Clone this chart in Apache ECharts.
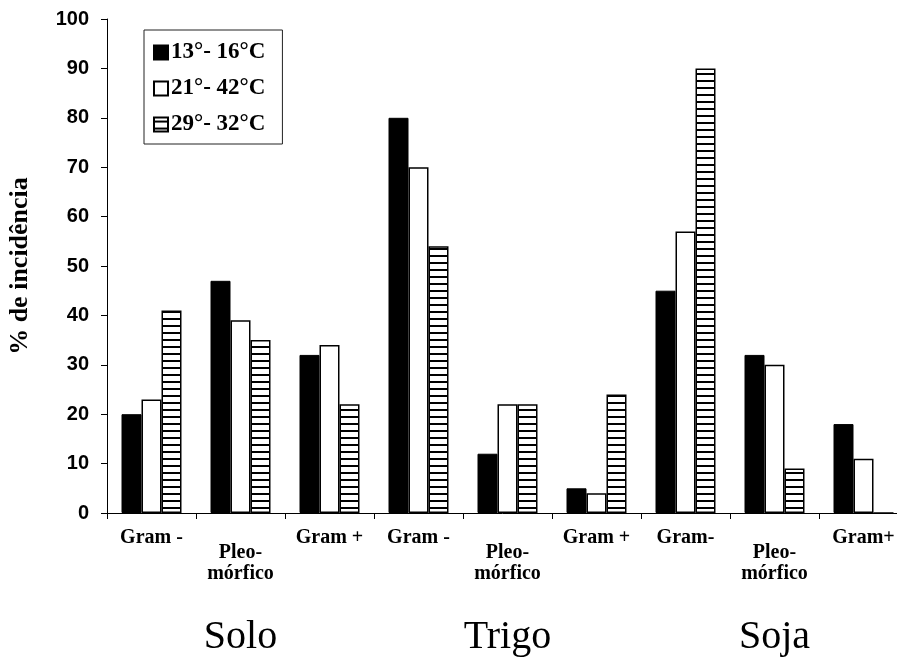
<!DOCTYPE html>
<html>
<head>
<meta charset="utf-8">
<script src="https://cdn.jsdelivr.net/npm/echarts@6/dist/echarts.min.js"></script>
<style>
  html, body { margin: 0; padding: 0; background: #fff; }
  #chart { width: 897px; height: 663px; }
</style>
</head>
<body>
<div id="chart"></div>
<script>
// categorias (eixo x) e grupos
const categories = ['Gram -', 'Pleo-\nmórfico', 'Gram +', 'Gram -', 'Pleo-\nmórfico', 'Gram +', 'Gram-', 'Pleo-\nmórfico', 'Gram+'];
const groups = ['Solo', 'Trigo', 'Soja'];
const seriesNames = ['13°- 16°C', '21°- 42°C', '29°- 32°C'];

// % de incidência
const temp13_16 = [20, 47, 32, 80, 12, 5, 45, 32, 18];
const temp21_42 = [23, 39, 34, 70, 22, 4, 57, 30, 11];
const temp29_32 = [41, 35, 22, 54, 22, 24, 90, 9, 0];

const yTicks = { min: 0, max: 100, interval: 10 };

// padrão listrado horizontal
const stripe = document.createElement('canvas');
stripe.width = 10;
stripe.height = 7;
const ctx = stripe.getContext('2d');
ctx.fillStyle = '#fff';
ctx.fillRect(0, 0, 10, 7);
ctx.fillStyle = '#000';
ctx.fillRect(0, 3, 10, 2);

const isPleo = (v) => v.indexOf('Pleo') === 0;
const serif = '"Liberation Serif", "Times New Roman", serif';
const sans = '"Liberation Sans", Arial, sans-serif';

const chart = echarts.init(document.getElementById('chart'));

const barBase = {
  type: 'bar',
  xAxisIndex: 0,
  barWidth: 20,
  barGap: '0%',
  animation: false
};

const option = {
  backgroundColor: '#fff',
  grid: { left: 107, right: -11, top: 19, bottom: 150, outerBoundsMode: 'none', containLabel: false },
  legend: {
    orient: 'vertical',
    left: 144,
    top: 30,
    padding: [11, 17, 8, 9],
    borderColor: '#222',
    borderWidth: 1,
    itemWidth: 14,
    itemHeight: 14,
    itemGap: 13,
    icon: 'rect',
    textStyle: { fontFamily: serif, fontWeight: 'bold', fontSize: 23, color: '#000', lineHeight: 23, padding: [0, 0, 0, -2] },
    data: seriesNames
  },
  xAxis: [
    {
      type: 'category',
      data: categories,
      axisLine: { lineStyle: { color: '#000', width: 1 } },
      axisTick: { show: true, length: 6, lineStyle: { color: '#000' } },
      axisLabel: {
        interval: 0,
        margin: 14,
        fontFamily: serif, fontWeight: 'bold', fontSize: 20, color: '#000', lineHeight: 21,
        formatter: (v) => isPleo(v) ? '' : v
      }
    },
    {
      type: 'category',
      data: categories,
      position: 'bottom',
      axisLine: { show: false },
      axisTick: { show: false },
      axisLabel: {
        interval: 0,
        margin: 29,
        fontFamily: serif, fontWeight: 'bold', fontSize: 20, color: '#000', lineHeight: 21,
        formatter: (v) => isPleo(v) ? v : ''
      }
    },
    {
      type: 'category',
      data: groups,
      position: 'bottom',
      axisLine: { show: false },
      axisTick: { show: false },
      axisLabel: {
        interval: 0,
        margin: 104,
        fontFamily: serif, fontSize: 40, color: '#000', lineHeight: 40
      }
    }
  ],
  yAxis: {
    type: 'value',
    min: yTicks.min,
    max: yTicks.max,
    interval: yTicks.interval,
    name: '% de incidência',
    nameLocation: 'middle',
    nameRotate: 90,
    nameGap: 74,
    nameTextStyle: { fontFamily: serif, fontWeight: 'bold', fontSize: 26, color: '#000' },
    axisLine: { show: true, lineStyle: { color: '#000', width: 1 } },
    axisTick: { show: true, length: 6, lineStyle: { color: '#000' } },
    splitLine: { show: false },
    axisLabel: { margin: 18, fontFamily: sans, fontWeight: 'bold', fontSize: 20, color: '#000' }
  },
  series: [
    Object.assign({}, barBase, {
      name: seriesNames[0],
      data: temp13_16,
      itemStyle: { color: '#000', borderColor: '#000', borderWidth: 1 }
    }),
    Object.assign({}, barBase, {
      name: seriesNames[1],
      data: temp21_42,
      itemStyle: { color: '#fff', borderColor: '#000', borderWidth: 1.5 }
    }),
    Object.assign({}, barBase, {
      name: seriesNames[2],
      data: temp29_32,
      itemStyle: { color: { image: stripe, repeat: 'repeat' }, borderColor: '#000', borderWidth: 1.5 }
    })
  ]
};

chart.setOption(option);
</script>
</body>
</html>
